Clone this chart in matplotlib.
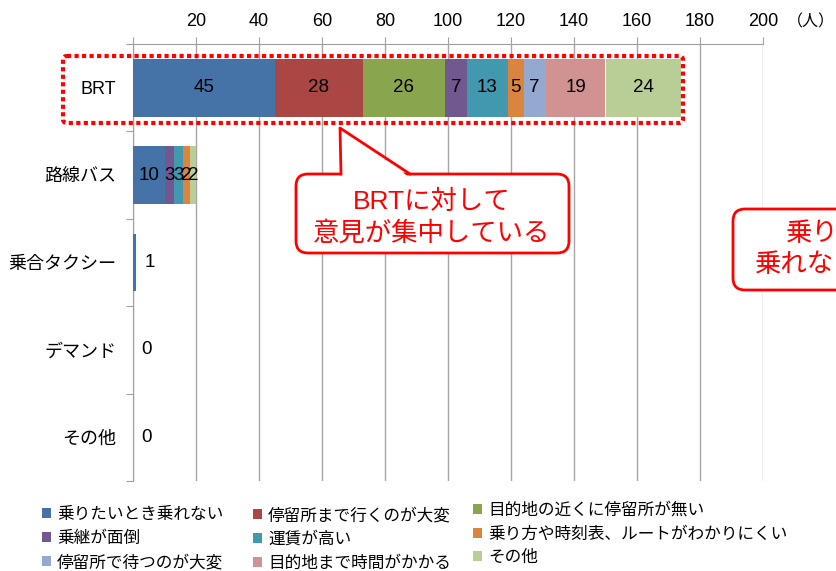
import numpy as np
import matplotlib
matplotlib.use("Agg")
import matplotlib.pyplot as plt
from matplotlib.patches import FancyBboxPatch, Polygon, Patch
from matplotlib.lines import Line2D
from matplotlib.transforms import Affine2D

plt.rcParams['font.family'] = ['Liberation Sans', 'Noto Sans CJK JP', 'DejaVu Sans']

W, H = 837, 571

categories = ['BRT', '路線バス', '乗合タクシー', 'デマンド', 'その他']
reasons = ['乗りたいとき乗れない', '停留所まで行くのが大変', '目的地の近くに停留所が無い',
           '乗継が面倒', '運賃が高い', '乗り方や時刻表、ルートがわかりにくい',
           '停留所で待つのが大変', '目的地まで時間がかかる', 'その他']
colors = ['#4572A7', '#AA4643', '#89A54E', '#71588F', '#4198AF',
          '#DB843D', '#93A9CF', '#D19392', '#B9CD96']

# counts per reason, one list per mode of transport
brt = [45, 28, 26, 7, 13, 5, 7, 19, 24]
route_bus = [10, 0, 0, 3, 3, 2, 0, 0, 2]
shared_taxi = [1, 0, 0, 0, 0, 0, 0, 0, 0]
demand = [0, 0, 0, 0, 0, 0, 0, 0, 0]
other = [0, 0, 0, 0, 0, 0, 0, 0, 0]

xticks = [0, 20, 40, 60, 80, 100, 120, 140, 160, 180, 200]

values = np.array([brt, route_bus, shared_taxi, demand, other])

fig = plt.figure(figsize=(W / 100, H / 100), dpi=100)
ax = fig.add_axes([133 / W, 1 - 481 / H, 630 / W, 437 / H])

# pixel coordinates measured from the top-left corner
px = Affine2D().scale(1 / W, -1 / H).translate(0, 1) + fig.transFigure

y = np.arange(len(categories))
left = np.zeros(len(categories))
for i in range(len(reasons)):
    ax.barh(y, values[:, i], left=left, height=0.66, color=colors[i],
            label=reasons[i], zorder=3)
    for j in range(len(categories)):
        v = values[j, i]
        if v > 0 and values[j].sum() >= 5:
            ax.text(left[j] + v / 2, y[j], str(v), ha='center', va='center',
                    fontsize=13.5, zorder=4)
    left += values[:, i]

# small totals get their label just right of the bar
for j in range(len(categories)):
    tot = values[j].sum()
    if tot < 5:
        ax.text(tot + 4.3, y[j], str(tot), ha='center', va='center',
                fontsize=13.5, zorder=4)

ax.set_xlim(0, 200)
ax.set_ylim(len(categories) - 0.5, -0.5)
ax.xaxis.tick_top()
ax.set_xticks(xticks)
ax.set_xticklabels([''] + [str(t) for t in xticks[1:]], fontsize=13)
ax.tick_params(axis='x', length=5, color='#A0A0A0', pad=5)
ax.set_yticks(np.arange(len(categories) + 1) - 0.5)
ax.set_yticklabels([])
ax.set_yticks(y, minor=True)
ax.set_yticklabels(categories, minor=True, fontsize=13)
ax.tick_params(axis='y', which='major', length=5, color='#A0A0A0')
ax.tick_params(axis='y', which='minor', length=0, pad=12)
ax.grid(axis='x', color='#A6A6A6', lw=1, zorder=1)
for s in ['right', 'bottom']:
    ax.spines[s].set_visible(False)
for s in ['left', 'top']:
    ax.spines[s].set_color('#A0A0A0')

fig.text(835, 22, '（人）', transform=px, ha='right', va='center', fontsize=11.5)

# dotted frame around the BRT row
fig.patches.append(FancyBboxPatch((63, 56), 620, 67, boxstyle='round,pad=0,rounding_size=4',
                                  transform=px, fill=False, edgecolor='#FF0000', lw=3,
                                  linestyle=(0, (1, 0.8))))

# speech bubble pointing at the BRT row
fig.patches.append(FancyBboxPatch((296, 174), 273, 79, boxstyle='round,pad=0,rounding_size=12',
                                  transform=px, facecolor='white', edgecolor='#FF0000', lw=2))
fig.patches.append(Polygon([(342, 177), (340, 128), (409, 177)], closed=True, transform=px,
                           facecolor='white', edgecolor='none'))
fig.lines.append(Line2D([341, 340, 410], [174, 128, 174], transform=px, color='#FF0000', lw=2))
fig.text(432, 202, 'BRTに対して', transform=px, ha='center', va='center',
         fontsize=19, color='#FF0000')
fig.text(432, 233, '意見が集中している', transform=px, ha='center', va='center',
         fontsize=19, color='#FF0000')

# second bubble running off the right edge
fig.patches.append(FancyBboxPatch((733, 209), 200, 81, boxstyle='round,pad=0,rounding_size=12',
                                  transform=px, facecolor='white', edgecolor='#FF0000', lw=2))
fig.text(786, 234, '乗りたいとき', transform=px, ha='left', va='center',
         fontsize=19, color='#FF0000')
fig.text(755, 264, '乗れないとの声', transform=px, ha='left', va='center',
         fontsize=19, color='#FF0000')

# legend laid out row by row in three columns
handles = [Patch(facecolor=c, edgecolor='none') for c in colors]
col_pos = [(42, 507), (253, 507), (473, 502)]
for k, (lx, ly) in enumerate(col_pos):
    idx = [k, k + 3, k + 6]
    fig.legend([handles[i] for i in idx], [reasons[i] for i in idx],
               loc='upper left', bbox_to_anchor=(lx / W, 1 - ly / H),
               frameon=False, fontsize=12, handlelength=0.55, handleheight=0.55,
               handletextpad=0.35, labelspacing=0.5, borderpad=0, borderaxespad=0)

fig.savefig('out.png', dpi=100)
